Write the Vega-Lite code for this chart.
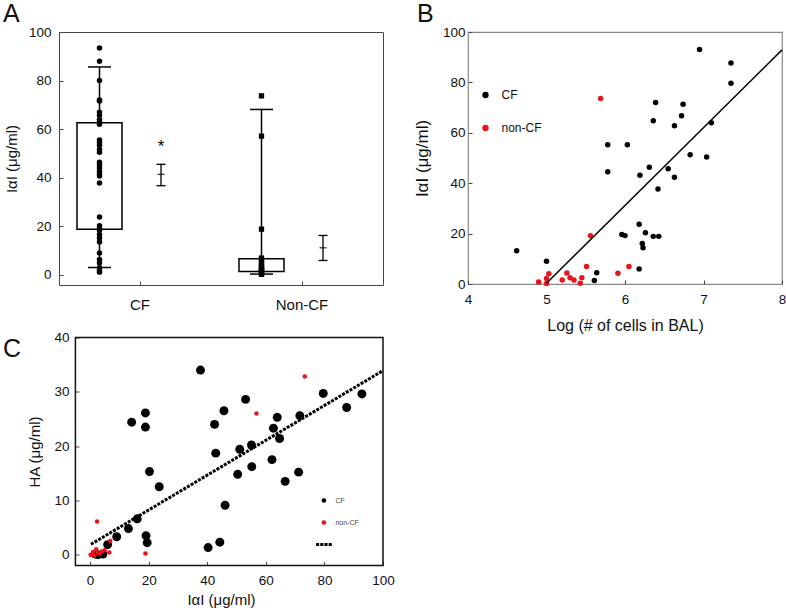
{
  "$schema": "https://vega.github.io/schema/vega-lite/v6.json",
  "background": "white",
  "padding": {"left": 2, "top": 1, "right": 0, "bottom": 0},
  "columns": 2,
  "align": "none",
  "spacing": {"column": 17, "row": -4.5},
  "resolve": {"scale": {"color": "independent", "shape": "independent"}, "legend": {"color": "independent", "shape": "independent"}},
  "config": {
    "font": "Liberation Sans",
    "axis": {"grid": false, "domain": false, "tickColor": "#444", "tickSize": -4, "labelColor": "#111", "titleColor": "#111", "titleFontWeight": "normal", "labelFontSize": 13.5, "titleFontSize": 15, "labelFont": "Liberation Sans", "titleFont": "Liberation Sans"},
    "title": {"fontSize": 25, "fontWeight": "normal", "anchor": "start", "frame": "group", "font": "Liberation Sans", "color": "#111", "baseline": "alphabetic", "offset": -2},
    "legend": {"labelFont": "Liberation Sans"}
  },
  "datasets": {
    "boxA": [
      {"g": "CF", "q1": 18.8, "q3": 62.6, "lo": 3.0, "hi": 85.6},
      {"g": "Non-CF", "q1": 1.4, "q3": 6.6, "lo": 0.3, "hi": 68.1}
    ],
    "errA": [
      {"g": "CF", "m": 41.4, "lo": 36.7, "hi": 45.5},
      {"g": "Non-CF", "m": 11.1, "lo": 5.9, "hi": 16.2}
    ],
    "starA": [{"g": "CF", "v": 54.3, "t": "*"}],
    "ptsA": [
      {"g": "CF", "v": 93.4}, {"g": "CF", "v": 88}, {"g": "CF", "v": 80}, {"g": "CF", "v": 72}, {"g": "CF", "v": 71.6},
      {"g": "CF", "v": 67}, {"g": "CF", "v": 65.7}, {"g": "CF", "v": 64}, {"g": "CF", "v": 63}, {"g": "CF", "v": 62},
      {"g": "CF", "v": 55.5}, {"g": "CF", "v": 54.4}, {"g": "CF", "v": 53.3}, {"g": "CF", "v": 51.6}, {"g": "CF", "v": 50.5},
      {"g": "CF", "v": 46.4}, {"g": "CF", "v": 45.2}, {"g": "CF", "v": 44}, {"g": "CF", "v": 42.7}, {"g": "CF", "v": 41.6},
      {"g": "CF", "v": 40.7}, {"g": "CF", "v": 37.8}, {"g": "CF", "v": 23.8}, {"g": "CF", "v": 20.2}, {"g": "CF", "v": 19.1},
      {"g": "CF", "v": 18.4}, {"g": "CF", "v": 16.6}, {"g": "CF", "v": 15.2}, {"g": "CF", "v": 13.5}, {"g": "CF", "v": 9},
      {"g": "CF", "v": 6.3}, {"g": "CF", "v": 4.9}, {"g": "CF", "v": 2.9}, {"g": "CF", "v": 1.9}, {"g": "CF", "v": 1.1},
      {"g": "Non-CF", "v": 73.7}, {"g": "Non-CF", "v": 57.1}, {"g": "Non-CF", "v": 18.8}, {"g": "Non-CF", "v": 6.9},
      {"g": "Non-CF", "v": 6.2}, {"g": "Non-CF", "v": 4.8}, {"g": "Non-CF", "v": 4.3}, {"g": "Non-CF", "v": 3.4},
      {"g": "Non-CF", "v": 2.5}, {"g": "Non-CF", "v": 2.3}, {"g": "Non-CF", "v": 2.3}, {"g": "Non-CF", "v": 1.6},
      {"g": "Non-CF", "v": 1.4}, {"g": "Non-CF", "v": 0.8}, {"g": "Non-CF", "v": 0.4}, {"g": "Non-CF", "v": 0.2}
    ],
    "lineB": [{"x": 5.0, "y": 0.3}, {"x": 8, "y": 92.9}],
    "ptsB": [
      {"g": "CF", "x": 4.62, "y": 13.2}, {"g": "CF", "x": 5.0, "y": 9.0}, {"g": "CF", "x": 5.61, "y": 1.4}, {"g": "CF", "x": 5.64, "y": 4.5},
      {"g": "CF", "x": 5.78, "y": 55.3}, {"g": "CF", "x": 5.78, "y": 44.5}, {"g": "CF", "x": 6.03, "y": 55.3}, {"g": "CF", "x": 5.96, "y": 19.6},
      {"g": "CF", "x": 6.0, "y": 19.2}, {"g": "CF", "x": 6.18, "y": 6.0}, {"g": "CF", "x": 6.18, "y": 23.7}, {"g": "CF", "x": 6.19, "y": 43.2},
      {"g": "CF", "x": 6.22, "y": 16.1}, {"g": "CF", "x": 6.23, "y": 14.4}, {"g": "CF", "x": 6.26, "y": 20.3}, {"g": "CF", "x": 6.31, "y": 46.3},
      {"g": "CF", "x": 6.36, "y": 64.8}, {"g": "CF", "x": 6.36, "y": 18.9}, {"g": "CF", "x": 6.39, "y": 72.0}, {"g": "CF", "x": 6.42, "y": 37.7},
      {"g": "CF", "x": 6.43, "y": 18.9}, {"g": "CF", "x": 6.55, "y": 45.7}, {"g": "CF", "x": 6.63, "y": 62.8}, {"g": "CF", "x": 6.63, "y": 42.4},
      {"g": "CF", "x": 6.72, "y": 66.8}, {"g": "CF", "x": 6.74, "y": 71.3}, {"g": "CF", "x": 6.83, "y": 51.3}, {"g": "CF", "x": 6.95, "y": 93.1},
      {"g": "CF", "x": 7.04, "y": 50.4}, {"g": "CF", "x": 7.1, "y": 64.0}, {"g": "CF", "x": 7.35, "y": 87.7}, {"g": "CF", "x": 7.35, "y": 79.7},
      {"g": "non-CF", "x": 4.9, "y": 0.8}, {"g": "non-CF", "x": 5.0, "y": 0.2}, {"g": "non-CF", "x": 5.0, "y": 2.2}, {"g": "non-CF", "x": 5.03, "y": 4.1},
      {"g": "non-CF", "x": 5.2, "y": 1.6}, {"g": "non-CF", "x": 5.26, "y": 4.4}, {"g": "non-CF", "x": 5.3, "y": 2.5}, {"g": "non-CF", "x": 5.35, "y": 1.6},
      {"g": "non-CF", "x": 5.43, "y": 0.3}, {"g": "non-CF", "x": 5.45, "y": 2.5}, {"g": "non-CF", "x": 5.51, "y": 6.9}, {"g": "non-CF", "x": 5.56, "y": 19.2},
      {"g": "non-CF", "x": 5.69, "y": 73.6}, {"g": "non-CF", "x": 5.91, "y": 4.3}, {"g": "non-CF", "x": 6.05, "y": 6.9}
    ],
    "lineC": [{"x": 0.3, "y": 1.9}, {"x": 100, "y": 33.9}],
    "ptsC": [
      {"g": "CF", "x": 37.7, "y": 34.0}, {"g": "CF", "x": 14.2, "y": 24.4}, {"g": "CF", "x": 18.9, "y": 26.1}, {"g": "CF", "x": 18.9, "y": 23.5},
      {"g": "CF", "x": 20.3, "y": 15.3}, {"g": "CF", "x": 23.6, "y": 12.5}, {"g": "CF", "x": 16.1, "y": 6.6}, {"g": "CF", "x": 13.1, "y": 4.8},
      {"g": "CF", "x": 9.1, "y": 3.3}, {"g": "CF", "x": 19.1, "y": 3.5}, {"g": "CF", "x": 19.5, "y": 2.2}, {"g": "CF", "x": 6.0, "y": 1.85},
      {"g": "CF", "x": 1.8, "y": 0.1}, {"g": "CF", "x": 2.7, "y": 0.0}, {"g": "CF", "x": 4.4, "y": 0.1},
      {"g": "CF", "x": 42.5, "y": 24.0}, {"g": "CF", "x": 45.7, "y": 26.5}, {"g": "CF", "x": 53.1, "y": 28.6}, {"g": "CF", "x": 42.9, "y": 18.7},
      {"g": "CF", "x": 51.1, "y": 19.4}, {"g": "CF", "x": 55.1, "y": 20.2}, {"g": "CF", "x": 50.4, "y": 14.8}, {"g": "CF", "x": 55.2, "y": 16.2},
      {"g": "CF", "x": 46.1, "y": 9.1}, {"g": "CF", "x": 40.3, "y": 1.3}, {"g": "CF", "x": 44.3, "y": 2.3}, {"g": "CF", "x": 62.6, "y": 23.3},
      {"g": "CF", "x": 63.9, "y": 25.3}, {"g": "CF", "x": 64.7, "y": 21.4}, {"g": "CF", "x": 62.1, "y": 17.5}, {"g": "CF", "x": 66.6, "y": 13.5},
      {"g": "CF", "x": 71.2, "y": 15.2}, {"g": "CF", "x": 71.6, "y": 25.6}, {"g": "CF", "x": 79.6, "y": 29.7}, {"g": "CF", "x": 87.6, "y": 27.1},
      {"g": "CF", "x": 92.8, "y": 29.6},
      {"g": "non-CF", "x": 0.2, "y": 0.0}, {"g": "non-CF", "x": 1.0, "y": 0.5}, {"g": "non-CF", "x": 1.4, "y": -0.2}, {"g": "non-CF", "x": 2.1, "y": 1.0},
      {"g": "non-CF", "x": 2.6, "y": 0.3}, {"g": "non-CF", "x": 3.3, "y": 0.2}, {"g": "non-CF", "x": 4.1, "y": 0.6}, {"g": "non-CF", "x": 5.0, "y": 0.8},
      {"g": "non-CF", "x": 6.6, "y": 0.4}, {"g": "non-CF", "x": 6.9, "y": 2.5}, {"g": "non-CF", "x": 2.4, "y": 6.1}, {"g": "non-CF", "x": 18.9, "y": 0.2},
      {"g": "non-CF", "x": 56.8, "y": 26.0}, {"g": "non-CF", "x": 73.3, "y": 32.8}
    ]
  },
  "concat": [
    {
      "width": 324, "height": 253,
      "title": {"text": "A", "dx": -56},
      "view": {"stroke": "#444", "strokeWidth": 1},
      "encoding": {
        "x": {"field": "g", "type": "nominal", "scale": {"type": "band", "domain": ["CF", "Non-CF"], "paddingInner": 0, "paddingOuter": 0}, "axis": {"title": null, "labelAngle": 0, "labelFontSize": 15, "labelPadding": 16}},
        "xOffset": {"datum": "box", "scale": {"type": "band", "domain": ["box", "mean"], "paddingInner": 0, "paddingOuter": 0.317, "align": 0.25}}
      },
      "layer": [
        {"data": {"name": "boxA"}, "mark": {"type": "bar", "width": 45, "fill": "white", "stroke": "black", "strokeWidth": 1.5},
         "encoding": {
           "y": {"field": "q1", "type": "quantitative", "scale": {"domain": [-4.2, 100], "nice": false, "zero": false},
                 "axis": {"title": "IαI (μg/ml)", "values": [0, 10, 20, 30, 40, 50, 60, 70, 80, 90, 100], "labelExpr": "datum.value % 20 === 0 ? datum.label : ''", "labelPadding": 12, "titlePadding": 9}},
           "y2": {"field": "q3"}}},
        {"data": {"name": "boxA"}, "mark": {"type": "rule", "strokeWidth": 1.5, "color": "black"},
         "encoding": {"y": {"field": "q3", "type": "quantitative"}, "y2": {"field": "hi"}}},
        {"data": {"name": "boxA"}, "mark": {"type": "rule", "strokeWidth": 1.5, "color": "black"},
         "encoding": {"y": {"field": "lo", "type": "quantitative"}, "y2": {"field": "q1"}}},
        {"data": {"name": "boxA"}, "mark": {"type": "tick", "size": 23, "thickness": 1.5, "color": "black", "opacity": 1},
         "encoding": {"y": {"field": "hi", "type": "quantitative"}}},
        {"data": {"name": "boxA"}, "mark": {"type": "tick", "size": 23, "thickness": 1.5, "color": "black", "opacity": 1},
         "encoding": {"y": {"field": "lo", "type": "quantitative"}}},
        {"data": {"name": "ptsA"}, "transform": [{"filter": "datum.g === 'CF'"}], "mark": {"type": "point", "shape": "circle", "filled": true, "size": 30, "color": "black", "opacity": 1},
         "encoding": {"y": {"field": "v", "type": "quantitative"}}},
        {"data": {"name": "ptsA"}, "transform": [{"filter": "datum.g === 'Non-CF'"}], "mark": {"type": "point", "shape": "square", "filled": true, "size": 28, "color": "black", "opacity": 1},
         "encoding": {"y": {"field": "v", "type": "quantitative"}}},
        {"data": {"name": "errA"}, "mark": {"type": "rule", "strokeWidth": 1.3, "color": "black"},
         "encoding": {"xOffset": {"datum": "mean"}, "y": {"field": "lo", "type": "quantitative"}, "y2": {"field": "hi"}}},
        {"data": {"name": "errA"}, "mark": {"type": "tick", "size": 9, "thickness": 1.3, "color": "black", "opacity": 1},
         "encoding": {"xOffset": {"datum": "mean"}, "y": {"field": "lo", "type": "quantitative"}}},
        {"data": {"name": "errA"}, "mark": {"type": "tick", "size": 9, "thickness": 1.3, "color": "black", "opacity": 1},
         "encoding": {"xOffset": {"datum": "mean"}, "y": {"field": "hi", "type": "quantitative"}}},
        {"data": {"name": "errA"}, "mark": {"type": "tick", "size": 7, "thickness": 1, "color": "black", "opacity": 1},
         "encoding": {"xOffset": {"datum": "mean"}, "y": {"field": "m", "type": "quantitative"}}},
        {"data": {"name": "starA"}, "mark": {"type": "text", "fontSize": 17, "baseline": "middle", "dy": 4, "color": "black"},
         "encoding": {"xOffset": {"datum": "mean"}, "y": {"field": "v", "type": "quantitative"}, "text": {"field": "t"}}}
      ]
    },
    {
      "width": 314, "height": 252,
      "title": {"text": "B", "dx": -51},
      "view": {"stroke": "#888", "strokeWidth": 1.2},
      "layer": [
        {"data": {"name": "ptsB"}, "mark": {"type": "point", "filled": true, "size": 30, "opacity": 1},
         "encoding": {
           "x": {"field": "x", "type": "quantitative", "scale": {"domain": [4, 8], "nice": false, "zero": false},
                 "axis": {"title": "Log (# of cells in BAL)", "titleFontSize": 16, "values": [4, 4.5, 5, 5.5, 6, 6.5, 7, 7.5, 8], "labelExpr": "datum.value % 1 === 0 ? format(datum.value, 'd') : ''", "labelPadding": 12, "titlePadding": 12, "labelFlush": false}},
           "y": {"field": "y", "type": "quantitative", "scale": {"domain": [0, 100], "nice": false, "zero": false},
                 "axis": {"title": "IαI (μg/ml)", "titleFontSize": 17, "values": [0, 10, 20, 30, 40, 50, 60, 70, 80, 90, 100], "labelExpr": "datum.value % 20 === 0 ? datum.label : ''", "labelPadding": 7, "titlePadding": 11}},
           "color": {"field": "g", "type": "nominal", "scale": {"domain": ["CF", "non-CF"], "range": ["black", "#e8141c"]},
                     "legend": {"title": null, "orient": "none", "legendX": 11.5, "legendY": 57, "symbolSize": 40, "symbolType": "circle", "labelFontSize": 12, "labelColor": "#111", "rowPadding": 21, "labelOffset": 10}}}},
        {"data": {"name": "lineB"}, "mark": {"type": "line", "color": "black", "strokeWidth": 1.5},
         "encoding": {"x": {"field": "x", "type": "quantitative"}, "y": {"field": "y", "type": "quantitative"}}}
      ]
    },
    {
      "width": 324, "height": 228,
      "title": {"text": "C", "dx": -56, "dy": 29},
      "view": {"stroke": null},
      "layer": [
        {"data": {"values": [{}]}, "mark": {"type": "rect", "filled": false, "stroke": "#111", "strokeWidth": 1.5},
         "encoding": {
           "x": {"datum": -5, "type": "quantitative", "scale": {"domain": [-10.6, 100], "nice": false, "zero": false},
                 "axis": {"title": "IαI (μg/ml)", "values": [0, 10, 20, 30, 40, 50, 60, 70, 80, 90, 100], "labelExpr": "datum.value % 20 === 0 ? datum.label : ''", "labelPadding": 12, "titlePadding": 5.5, "labelFlush": false}},
           "x2": {"datum": 100},
           "y": {"datum": -2, "type": "quantitative", "scale": {"domain": [-2, 40], "nice": false, "zero": false},
                 "axis": {"title": "HA (μg/ml)", "offset": -16, "values": [0, 5, 10, 15, 20, 25, 30, 35, 40], "labelExpr": "datum.value % 10 === 0 ? datum.label : ''", "labelPadding": 10, "titlePadding": 11}},
           "y2": {"datum": 40}}},
        {"data": {"name": "ptsC"}, "transform": [{"filter": "datum.g === 'CF'"}], "mark": {"type": "point", "filled": true, "size": 80, "opacity": 1},
         "encoding": {
           "x": {"field": "x", "type": "quantitative"},
           "y": {"field": "y", "type": "quantitative"},
           "color": {"field": "g", "type": "nominal", "scale": {"domain": ["CF", "non-CF", "fit"], "range": ["black", "#e8141c", "black"]},
                     "legend": {"title": null, "orient": "none", "legendX": 261.4, "legendY": 159.5, "symbolSize": 22, "labelFontSize": 7, "labelColor": "#444", "rowPadding": 14, "labelOffset": 8, "labelExpr": "datum.value === 'fit' ? '' : datum.label"}},
           "shape": {"field": "g", "type": "nominal", "scale": {"domain": ["CF", "non-CF", "fit"], "range": ["circle", "circle", "M-3.35,-0.6h1.34v1.2h-1.34z M-1.56,-0.6h1.34v1.2h-1.34z M0.23,-0.6h1.34v1.2h-1.34z M2.02,-0.6h1.34v1.2h-1.34z"]}}}},
        {"data": {"name": "ptsC"}, "transform": [{"filter": "datum.g === 'non-CF'"}], "mark": {"type": "point", "filled": true, "size": 20, "opacity": 1},
         "encoding": {
           "x": {"field": "x", "type": "quantitative"},
           "y": {"field": "y", "type": "quantitative"},
           "color": {"field": "g", "type": "nominal"},
           "shape": {"field": "g", "type": "nominal"}}},
        {"data": {"name": "lineC"}, "mark": {"type": "line", "color": "black", "strokeWidth": 3, "strokeDash": [3, 1.3]},
         "encoding": {"x": {"field": "x", "type": "quantitative"}, "y": {"field": "y", "type": "quantitative"}}}
      ]
    }
  ]
}
